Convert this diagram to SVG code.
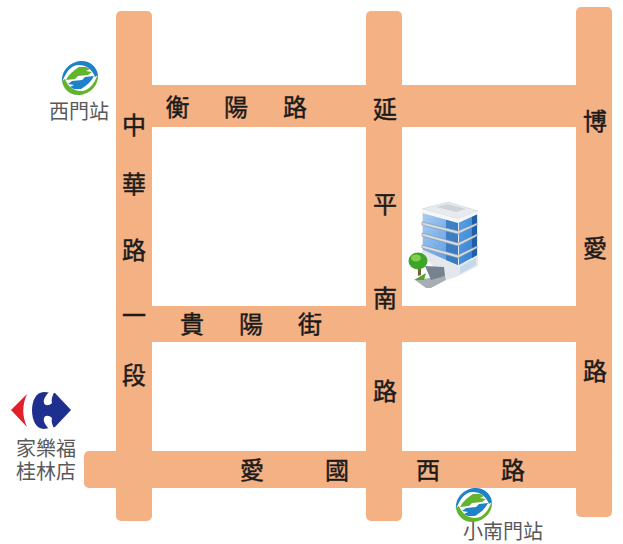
<svg xmlns="http://www.w3.org/2000/svg" width="623" height="544" viewBox="0 0 623 544">
<style>
.road{fill:#f4b183}
.r{font:24px "Noto Sans CJK TC","Noto Sans CJK SC",sans-serif;fill:#1a1a1a;stroke:#1a1a1a;stroke-width:.45;text-anchor:middle}
.s{font:20px "Noto Sans CJK TC","Noto Sans CJK SC",sans-serif;fill:#595959;text-anchor:middle}
.band{fill:#d6dde3;stroke:#7f8f9c;stroke-width:.6}
</style>
<defs>
<linearGradient id="gl" x1="0" y1="0" x2="1" y2="1"><stop offset="0" stop-color="#a9cdf3"/><stop offset="1" stop-color="#4f92de"/></linearGradient>
<linearGradient id="gr" x1="0" y1="0" x2="1" y2="1"><stop offset="0" stop-color="#5aa4ea"/><stop offset="1" stop-color="#2f78cc"/></linearGradient>
<g id="logo">
<path d="M-18 4C-19-9-8-17 2-17 10-17 17-11 18-3L15-1C12-9 6-13-1-13-9-13-14-6-18 4Z" fill="#1f82c8"/>
<path d="M18-4C19 9 8 17-2 17-10 17-17 11-18 3L-15 1C-12 9-6 13 1 13 9 13 14 6 18-4Z" fill="#62b32e"/>
<path d="M-14 2C-11-4-6-8-1-11L6-11 10-9 6-7 12-6 8-3-2-2-5 1Z" fill="#62b32e"/>
<path d="M14-2C11 4 6 8 1 11L-6 11-10 9-6 7-12 6-8 3 2 2 5-1Z" fill="#1f82c8"/>
</g>
</defs>
<rect width="623" height="544" fill="#fff"/>
<g id="roads">
<rect class="road" x="116" y="11" width="36" height="510" rx="5"/>
<rect class="road" x="366" y="11" width="36" height="510" rx="5"/>
<rect class="road" x="576" y="7" width="36" height="510" rx="5"/>
<rect class="road" x="150" y="85" width="428" height="42"/>
<rect class="road" x="150" y="306" width="428" height="36"/>
<rect class="road" x="84" y="451" width="528" height="37" rx="5"/>
</g>
<g id="road-labels">
<text class="r" x="177.500" y="116">衡</text><text class="r" x="236" y="116">陽</text><text class="r" x="295" y="116">路</text>
<text class="r" x="134" y="134">中</text><text class="r" x="134" y="193">華</text><text class="r" x="134" y="259">路</text><text class="r" x="134" y="324">一</text><text class="r" x="134" y="384">段</text>
<text class="r" x="385" y="118">延</text><text class="r" x="385" y="213">平</text><text class="r" x="385" y="307">南</text><text class="r" x="385" y="400">路</text>
<text class="r" x="595" y="130">博</text><text class="r" x="595" y="257">愛</text><text class="r" x="595" y="380">路</text>
<text class="r" x="192" y="333">貴</text><text class="r" x="251" y="333">陽</text><text class="r" x="310" y="333">街</text>
<text class="r" x="252" y="479">愛</text><text class="r" x="337" y="479">國</text><text class="r" x="428" y="479">西</text><text class="r" x="513" y="479">路</text>
</g>
<g id="station-ximen"><use href="#logo" x="80" y="78"/><text class="s" x="79" y="119">西門站</text></g>
<g id="station-xiaonanmen"><use href="#logo" x="474" y="505"/><text class="s" x="503" y="539">小南門站</text></g>
<g id="carrefour">
<path d="M27 394 11 410 27 427C22 416 22 405 27 394Z" fill="#e2202c"/>
<path d="M44 392C36 392 32 401 32 410 32 420 36 429 44 429L55 427 71 410 55 393Z" fill="#1f2f8f"/>
<path d="M50 391 55 391C52 396 51 400 52 403 49 406 45 406 44 403 43 400 45 396 50 391Z" fill="#fff"/>
<path d="M50 430 55 430C52 425 51 421 52 418 49 415 45 415 44 418 43 421 45 425 50 430Z" fill="#fff"/>
<text class="s" x="46" y="456">家樂福</text><text class="s" x="46" y="479">桂林店</text>
</g>
<g id="building">
<path d="M422 255 447 280 458 276 478 266 478 211 458 220 422 210Z" fill="#e4e8ec"/>
<path d="M423 212 458 222 458 265 423 250Z" fill="url(#gl)"/>
<path d="M446 219 458 222 458 265 446 260Z" fill="#2f74bd" opacity=".8"/>
<path d="M459 222 477 214 477 255 459 265Z" fill="url(#gr)"/>
<path d="M472 216 477 214 477 255 472 258Z" fill="#1f5fa8"/>
<path d="M422 209 448 202 478 211 458 219Z" fill="#e8ebee" stroke="#c3cad0" stroke-width=".5"/>
<path d="M422 209 458 219 478 211 478 214 458 223 422 213Z" fill="#f5f6f8"/>
<path d="M436 207 448 204 466 209 456 212Z" fill="#cdd3d8"/>
<path class="band" d="M422 222 458 231 477 223 477 225 458 234 422 225Z"/>
<path class="band" d="M422 233 458 243 477 234 477 236 458 246 422 236Z"/>
<path class="band" d="M422 245 458 255 477 246 477 248 458 258 422 248Z"/>
<path d="M460 267 476 258 476 265 460 274Z" fill="#c3d8ea"/>
<path d="M415 280 445 276 446 280 431 288 426 288Z" fill="#a8aeb4"/>
<path d="M425 266 444 267 445 276 431 280Z" fill="#75838f"/>
<path d="M414 280 426 273 424 280Z" fill="#4fa82a"/>
<path d="M418 266 421 266 421 275 418 276Z" fill="#7d5f34"/>
<ellipse cx="418" cy="261" rx="9.500" ry="8.500" fill="#3fa526"/>
<ellipse cx="416" cy="258" rx="5" ry="3.500" fill="#7ed04e"/>
</g>
</svg>
